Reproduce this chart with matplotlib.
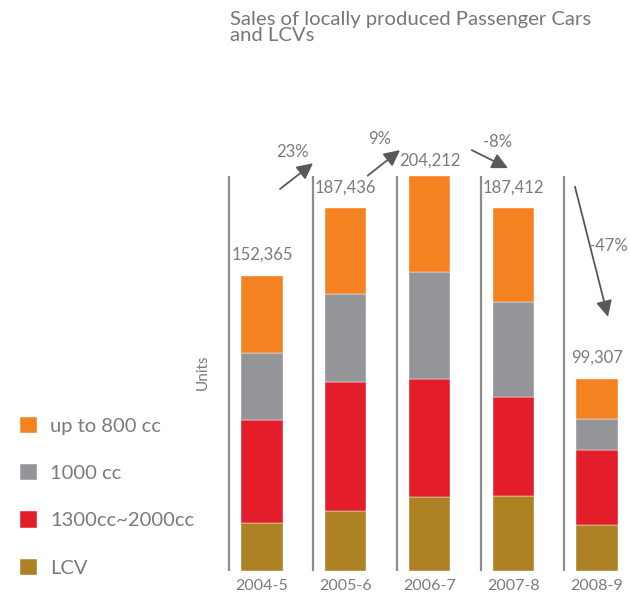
import matplotlib
matplotlib.use("Agg")
import matplotlib.pyplot as plt
import numpy as np

years = ["2004-5", "2005-6", "2006-7", "2007-8", "2008-9"]
lcv = [24800, 31000, 38380, 38740, 23760]
cc1300_2000 = [53350, 66630, 60790, 51290, 38890]
cc1000 = [34450, 45300, 55110, 49070, 15860]
upto800 = [39765, 44506, 49932, 48312, 20797]
totals = [152365, 187436, 204212, 187412, 99307]
growth = ["23%", "9%", "-8%", "-47%"]

series = [("LCV", lcv, "#ad8224"),
          ("1300cc~2000cc", cc1300_2000, "#e31e2a"),
          ("1000 cc", cc1000, "#939598"),
          ("up to 800 cc", upto800, "#f48221")]

plt.rcParams['font.family'] = ['Lato', 'DejaVu Sans']
txt = "#7a7b7e"

W, H = 630, 596
fig = plt.figure(figsize=(W / 100, H / 100), dpi=100)
px_per_idx = 83.75
x0_px = 262
xmin, xmax = -0.45, 4.4
left_px = x0_px + xmin * px_per_idx
right_px = x0_px + xmax * px_per_idx
base_px = 571
units_per_px = 516.5
ax = fig.add_axes([left_px / W, (H - base_px) / H, (right_px - left_px) / W, base_px / H])
ax.set_xlim(xmin, xmax)
ax.set_ylim(0, base_px * units_per_px)
ax.axis("off")

x = np.arange(len(years))
bottom = np.zeros(len(years))
handles = {}
for name, vals, col in series:
    b = ax.bar(x, vals, width=0.49, bottom=bottom, color=col, label=name,
               edgecolor="white", linewidth=0.3)
    handles[name] = b
    bottom += np.array(vals)

# vertical separator lines
ax.vlines(x - 0.39, 0, max(totals), color="#8c8c8c", linewidth=1.6)

# total labels
for xi, t in zip(x, totals):
    off = 7500 if t == max(totals) else 10800
    ax.text(xi, t + off, f"{t:,}", ha="center", va="center", fontsize=12, color=txt)

# x labels
for xi, yr in zip(x, years):
    ax.text(xi, -15.5 * units_per_px, yr, ha="center", va="center", fontsize=11.5, color=txt,
            clip_on=False)

# growth arrows
arrows = [((0.215, 197300), (0.609, 210600), (0.367, 216600)),
          ((1.262, 204200), (1.648, 217400), (1.409, 223100)),
          ((2.504, 217400), (2.937, 208100), (2.818, 221700)),
          ((3.737, 198500), (4.131, 131300), (4.131, 167900))]
for g, (s, e, lab) in zip(growth, arrows):
    ax.annotate("", xy=e, xytext=s,
                arrowprops=dict(arrowstyle="-|>,head_length=0.6,head_width=0.3",
                                color="#58595b", lw=1.3,
                                mutation_scale=16, shrinkA=0, shrinkB=0))
    ax.text(lab[0], lab[1], g, ha="center", va="center", fontsize=12, color=txt)

# title
fig.text(230 / W, 1 - 11 / H, "Sales of locally produced Passenger Cars\nand LCVs",
         ha="left", va="top", fontsize=14.6, color="#76777a",
         linespacing=0.92)

# units label
fig.text(203 / W, 1 - 372 / H, "Units", rotation=90, ha="center", va="center",
         fontsize=11, color=txt)

# legend
order = ["up to 800 cc", "1000 cc", "1300cc~2000cc", "LCV"]
leg = fig.legend([handles[n] for n in order], order, loc="upper left",
                 bbox_to_anchor=(12 / W, 1 - 409 / H), frameon=False,
                 fontsize=14.5, handlelength=0.85, handleheight=0.85,
                 labelspacing=1.45, handletextpad=0.65, borderaxespad=0)
for t in leg.get_texts():
    t.set_color(txt)

fig.savefig("out.png", dpi=100)
